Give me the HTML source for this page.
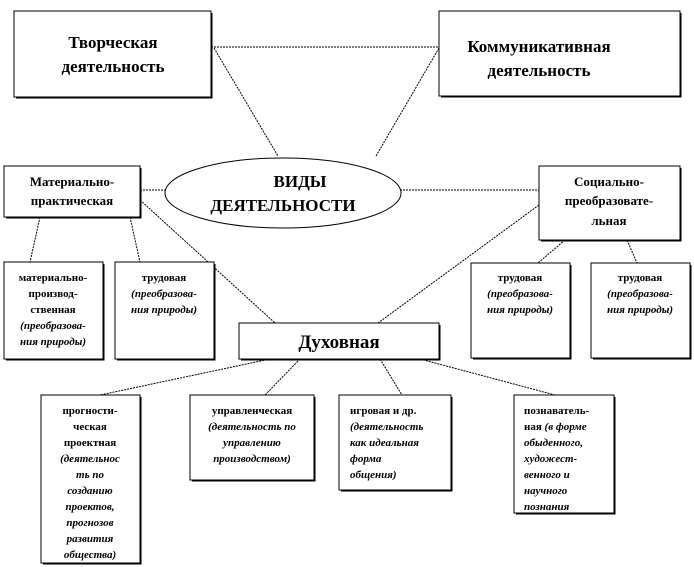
<!DOCTYPE html>
<html><head><meta charset="utf-8"><style>
body{margin:0;background:#fff;}
svg{display:block}
text{font-family:"Liberation Serif",serif;fill:#000;}
.b{font-weight:bold}
.s{font-size:11px;font-weight:bold}
.i{font-style:italic}
</style></head><body>
<svg width="694" height="567" viewBox="0 0 694 567">
<g stroke="#000" stroke-width="1" fill="none" stroke-dasharray="2,1">
<line x1="211" y1="47" x2="439" y2="47"/>
<line x1="214" y1="48" x2="278" y2="156"/>
<line x1="439" y1="48" x2="376" y2="156"/>
<line x1="140" y1="190" x2="166" y2="190"/>
<line x1="400" y1="190" x2="539" y2="190"/>
<line x1="140" y1="200" x2="275" y2="323"/>
<line x1="539" y1="205" x2="378" y2="323"/>
<line x1="40" y1="217" x2="30" y2="262"/>
<line x1="130" y1="217" x2="140" y2="262"/>
<line x1="565" y1="240" x2="538" y2="263"/>
<line x1="627" y1="240" x2="637" y2="263"/>
<line x1="270" y1="359" x2="100" y2="395"/>
<line x1="300" y1="359" x2="265" y2="395"/>
<line x1="380" y1="359" x2="402" y2="395"/>
<line x1="420" y1="359" x2="555" y2="395"/>
</g>
<g fill="#fff" stroke="#000" stroke-width="1">
<rect x="14" y="11" width="197" height="86"/><path d="M212 13V98H16" fill="none"/>
<rect x="439" y="11" width="241" height="85"/><path d="M681 13V97H441" fill="none"/>
<ellipse cx="283" cy="193" rx="118" ry="35"/>
<rect x="4" y="166" width="136" height="51"/><path d="M141 168V218H6" fill="none"/>
<rect x="539" y="166" width="141" height="74"/><path d="M681 168V241H541" fill="none"/>
<rect x="4" y="262" width="99" height="97"/><path d="M104 264V360H6" fill="none"/>
<rect x="115" y="262" width="99" height="97"/><path d="M215 264V360H117" fill="none"/>
<rect x="471" y="263" width="99" height="95"/><path d="M571 265V359H473" fill="none"/>
<rect x="591" y="263" width="99" height="95"/><path d="M691 265V359H593" fill="none"/>
<rect x="239" y="323" width="200" height="36"/><path d="M440 325V360H241" fill="none"/>
<rect x="41" y="395" width="99" height="168"/><path d="M141 397V564H43" fill="none"/>
<rect x="190" y="395" width="124" height="85"/><path d="M315 397V481H192" fill="none"/>
<rect x="339" y="395" width="112" height="95"/><path d="M452 397V491H341" fill="none"/>
<rect x="514" y="395" width="100" height="118"/><path d="M615 397V514H516" fill="none"/>
</g>
<g class="b" font-size="17" text-anchor="middle">
<text x="113" y="48">Творческая</text><text x="113" y="72">деятельность</text>
<text x="539" y="52">Коммуникативная</text><text x="539" y="76">деятельность</text>
<text x="300" y="187">ВИДЫ</text><text x="283" y="211">ДЕЯТЕЛЬНОСТИ</text>
<text x="339" y="348" font-size="19">Духовная</text>
</g>
<g class="b" font-size="13" text-anchor="middle">
<text x="72" y="186">Материально-</text><text x="72" y="205">практическая</text>
<text x="609" y="186">Социально-</text><text x="609" y="205">преобразовате-</text><text x="609" y="225">льная</text>
</g>
<g class="s" text-anchor="middle">
<text x="53" y="281">материально-</text><text x="53" y="297">производ-</text><text x="53" y="313">ственная</text>
<text x="53" y="329" class="i">(преобразова-</text><text x="53" y="345" class="i">ния природы)</text>
<text x="164" y="281">трудовая</text><text x="164" y="297" class="i">(преобразова-</text><text x="164" y="313" class="i">ния природы)</text>
<text x="520" y="281">трудовая</text><text x="520" y="297" class="i">(преобразова-</text><text x="520" y="313" class="i">ния природы)</text>
<text x="640" y="281">трудовая</text><text x="640" y="297" class="i">(преобразова-</text><text x="640" y="313" class="i">ния природы)</text>
<text x="90" y="414">прогности-</text><text x="90" y="430">ческая</text><text x="90" y="446">проектная</text>
<text x="90" y="462" class="i">(деятельнос</text><text x="90" y="478" class="i">ть по</text><text x="90" y="494" class="i">созданию</text>
<text x="90" y="510" class="i">проектов,</text><text x="90" y="526" class="i">прогнозов</text><text x="90" y="542" class="i">развития</text><text x="90" y="558" class="i">общества)</text>
<text x="252" y="414">управленческая</text><text x="252" y="430" class="i">(деятельность по</text><text x="252" y="446" class="i">управлению</text><text x="252" y="462" class="i">производством)</text>
</g>
<g class="s">
<text x="350" y="414">игровая и др.</text><text x="350" y="430" class="i">(деятельность</text><text x="350" y="446" class="i">как идеальная</text><text x="350" y="462" class="i">форма</text><text x="350" y="478" class="i">общения)</text>
<text x="524" y="414">познаватель-</text><text x="524" y="430">ная <tspan class="i">(в форме</tspan></text><text x="524" y="446" class="i">обыденного,</text><text x="524" y="462" class="i">художест-</text><text x="524" y="478" class="i">венного и</text><text x="524" y="494" class="i">научного</text><text x="524" y="510" class="i">познания</text>
</g>
</svg>
</body></html>
